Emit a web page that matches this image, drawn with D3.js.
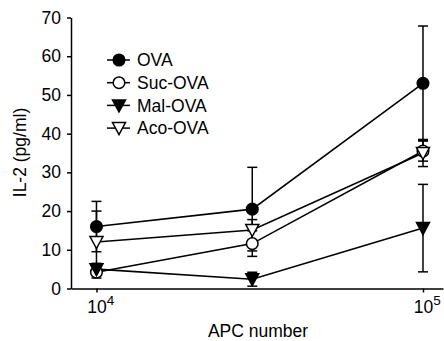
<!DOCTYPE html>
<html>
<head>
<meta charset="utf-8">
<script src="https://cdn.jsdelivr.net/npm/d3@7"></script>
<style>
  body { margin: 0; background: #fff; }
  text { font-family: "Liberation Sans", Arial, sans-serif; }
</style>
</head>
<body>
<div id="chart"></div>
<script>
// APC numbers on the x axis
const apc = [10000, 30000, 100000]

const seriesNames = ["OVA", "Suc-OVA", "Mal-OVA", "Aco-OVA"]
const ova = [16, 20.5, 53]
const ovaErr = [6.5, 10.8, 14.8]
const suc = [4.2, 11.6, 35.5]
const sucErr = [1.5, 3.3, 2.6]
const mal = [5, 2.4, 15.6]
const malErr = [1.5, 1.8, 11.3]
const aco = [12, 15.1, 35]
const acoErr = [8, 2.7, 3.5]

const yTicks = [0, 10, 20, 30, 40, 50, 60, 70]
const xTicks = [10000, 100000]

const W = 444, H = 341
const MARGIN = { TOP: 17.5, LEFT: 71 }
const PLOT_W = 372, PLOT_H = 271
const FS = "17.5px"

const svg = d3.select("#chart").append("svg")
    .attr("width", W)
    .attr("height", H)

const g = svg.append("g")
    .attr("transform", "translate(" + MARGIN.LEFT + "," + MARGIN.TOP + ")")

const x = d3.scaleLog()
    .domain([8356, 115160])
    .range([0, PLOT_W])

const y = d3.scaleLinear()
    .domain([0, 70])
    .range([PLOT_H, 0])

//axes
const yAxis = g.append("g")
    .call(d3.axisLeft(y).tickValues(yTicks).tickSize(4).tickSizeOuter(0).tickPadding(6))
yAxis.selectAll("text").style("font-size", FS).attr("fill", "#000")

const xAxis = g.append("g")
    .attr("transform", "translate(0," + PLOT_H + ")")
    .call(d3.axisBottom(x).tickValues(xTicks).tickSize(4).tickSizeOuter(0).tickFormat(""))
xAxis.selectAll(".tick").append("text")
    .attr("x", -9.7)
    .attr("y", 24.5)
    .attr("fill", "#000")
    .attr("text-anchor", "start")
    .style("font-size", FS)
    .each(function (d) {
        const t = d3.select(this)
        t.append("tspan").text("10")
        t.append("tspan").attr("dy", -8).style("font-size", "13.5px").text(Math.round(Math.log10(d)))
    })
g.selectAll(".domain, .tick line").attr("stroke", "#000").attr("stroke-width", 1.5)

//axis labels
svg.append("text")
    .attr("x", 258)
    .attr("y", 337)
    .attr("text-anchor", "middle")
    .style("font-size", FS)
    .text("APC number")

svg.append("text")
    .attr("transform", "translate(26,152.5) rotate(-90)")
    .attr("text-anchor", "middle")
    .style("font-size", FS)
    .text("IL-2 (pg/ml)")

//series
const series = [
    { name: seriesNames[0], v: ova, e: ovaErr, shape: "circle", fill: "#000" },
    { name: seriesNames[1], v: suc, e: sucErr, shape: "circle", fill: "#fff" },
    { name: seriesNames[2], v: mal, e: malErr, shape: "tri", fill: "#000" },
    { name: seriesNames[3], v: aco, e: acoErr, shape: "tri", fill: "#fff" }
]

const line = d3.line()
    .x((d, i) => x(apc[i]))
    .y(d => y(d))

function marker(sel, s) {
    if (s.shape === "circle") {
        sel.append("circle").attr("r", 5.8)
    } else {
        sel.append("path").attr("d", "M-6.5,-5.5L6.5,-5.5L0,6.5Z")
    }
    sel.selectAll("circle, path")
        .attr("fill", s.fill)
        .attr("stroke", "#000")
        .attr("stroke-width", 1.5)
}

series.forEach(s => {
    g.append("path")
        .datum(s.v)
        .attr("d", line)
        .attr("fill", "none")
        .attr("stroke", "#000")
        .attr("stroke-width", 1.6)
})

series.forEach(s => {
    s.v.forEach((v, i) => {
        const cx = x(apc[i])
        const eb = g.append("g").attr("stroke", "#000").attr("stroke-width", 1.5)
        eb.append("line").attr("x1", cx).attr("x2", cx).attr("y1", y(v - s.e[i])).attr("y2", y(v + s.e[i]))
        eb.append("line").attr("x1", cx - 5).attr("x2", cx + 5).attr("y1", y(v + s.e[i])).attr("y2", y(v + s.e[i]))
        eb.append("line").attr("x1", cx - 5).attr("x2", cx + 5).attr("y1", y(v - s.e[i])).attr("y2", y(v - s.e[i]))
    })
})

series.forEach(s => {
    s.v.forEach((v, i) => {
        const m = g.append("g").attr("transform", "translate(" + x(apc[i]) + "," + y(v) + ")")
        marker(m, s)
    })
})

//legend
const legend = svg.append("g").attr("transform", "translate(107,60)")
series.forEach((s, i) => {
    const row = legend.append("g").attr("transform", "translate(0," + (i * 22.7) + ")")
    row.append("line").attr("x1", 0).attr("x2", 23).attr("stroke", "#000").attr("stroke-width", 1.5)
    const m = row.append("g").attr("transform", "translate(12,0)")
    marker(m, s)
    row.append("text")
        .attr("x", 30)
        .attr("dy", "0.35em")
        .style("font-size", FS)
        .text(s.name)
})
</script>
</body>
</html>
